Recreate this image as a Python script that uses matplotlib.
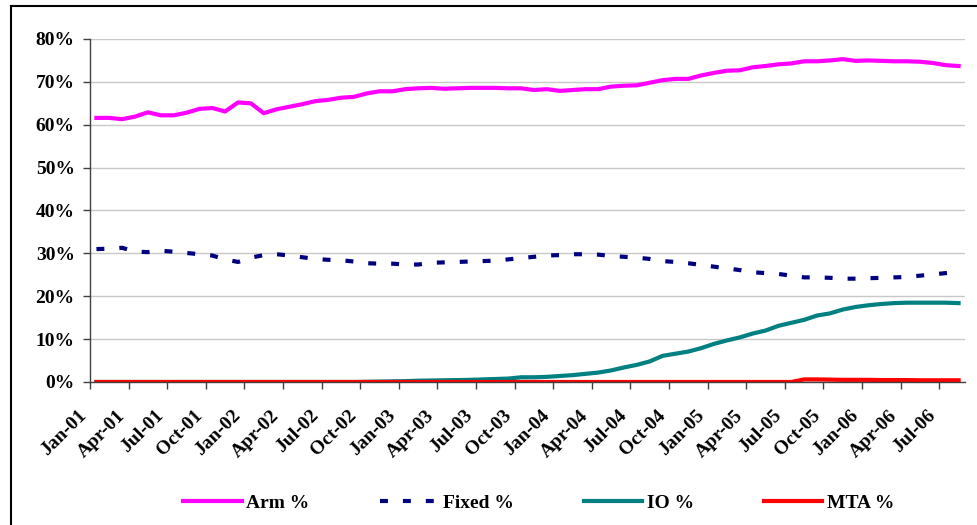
import numpy as np
import matplotlib
matplotlib.use("Agg")
import matplotlib.pyplot as plt
from matplotlib.lines import Line2D
from matplotlib.ticker import PercentFormatter

# month labels, Jan-01 .. Aug-06 (68 months)
months = ["Jan", "Feb", "Mar", "Apr", "May", "Jun",
          "Jul", "Aug", "Sep", "Oct", "Nov", "Dec"]
periods = [f"{m}-{y:02d}" for y in range(1, 7) for m in months][:68]

arm = [61.6, 61.6, 61.3, 61.9, 62.9, 62.2, 62.2, 62.8, 63.7, 63.9,
       63.1, 65.2, 65.0, 62.7, 63.6, 64.2, 64.8, 65.5, 65.8, 66.3,
       66.5, 67.3, 67.8, 67.8, 68.3, 68.5, 68.6, 68.4, 68.5, 68.6,
       68.6, 68.6, 68.5, 68.5, 68.1, 68.3, 67.9, 68.1, 68.3, 68.3,
       68.9, 69.1, 69.2, 69.8, 70.4, 70.7, 70.7, 71.5, 72.1, 72.6,
       72.7, 73.4, 73.7, 74.1, 74.3, 74.8, 74.8, 75.0, 75.3, 74.9,
       75.0, 74.9, 74.8, 74.8, 74.7, 74.4, 73.9, 73.7]

fixed = [31.0, 31.1, 31.3, 30.4, 30.3, 30.6, 30.4, 30.1, 29.8, 29.5,
         28.6, 28.0, 29.0, 29.6, 29.8, 29.5, 29.1, 28.7, 28.5, 28.4,
         28.1, 27.7, 27.6, 27.6, 27.4, 27.4, 27.8, 27.9, 28.0, 28.1,
         28.2, 28.3, 28.6, 28.9, 29.2, 29.5, 29.6, 29.8, 29.8, 29.7,
         29.4, 29.2, 29.0, 28.7, 28.2, 28.0, 27.7, 27.3, 26.9, 26.5,
         26.1, 25.6, 25.4, 25.2, 24.8, 24.4, 24.4, 24.3, 24.1, 24.1,
         24.2, 24.3, 24.4, 24.5, 24.8, 25.1, 25.4, 25.6]

io = [0.0, 0.0, 0.0, 0.0, 0.0, 0.0, 0.0, 0.0, 0.0, 0.0,
      0.0, 0.0, 0.0, 0.0, 0.0, 0.0, 0.0, 0.0, 0.0, 0.0,
      0.0, 0.05, 0.1, 0.15, 0.2, 0.3, 0.35, 0.4, 0.45, 0.5,
      0.6, 0.7, 0.8, 1.1, 1.1, 1.2, 1.4, 1.6, 1.9, 2.2,
      2.7, 3.4, 4.0, 4.8, 6.1, 6.6, 7.1, 7.9, 8.9, 9.7,
      10.4, 11.3, 12.0, 13.1, 13.8, 14.5, 15.5, 16.0, 16.9, 17.5,
      17.9, 18.2, 18.4, 18.5, 18.5, 18.5, 18.5, 18.4]

mta = [0.0] * 55 + [0.6, 0.6, 0.55, 0.5, 0.5, 0.5, 0.45, 0.45,
                    0.45, 0.4, 0.4, 0.4, 0.4]

font = "Liberation Serif"

fig = plt.figure(figsize=(9.78, 5.25), dpi=100)
ax = fig.add_axes([90 / 978, 143 / 525, 875 / 978, 343 / 525])

x = np.arange(len(periods))
ax.plot(x, arm, color="#FF00FF", lw=3, label="Arm %")
ax.plot(x, fixed, color="#000080", lw=3, dashes=(1.9, 3.6), label="Fixed %")
ax.plot(x, io, color="#008080", lw=3, label="IO %")
ax.plot(x, mta, color="#FF0000", lw=3, label="MTA %")

ax.set_xlim(-0.5, len(periods) - 0.5)
ax.set_ylim(0, 80)
ax.set_yticks(np.arange(0, 81, 10))
ax.yaxis.set_major_formatter(PercentFormatter(decimals=0))
ax.grid(axis="y", color="#C8C8C8", lw=1)
ax.set_axisbelow(True)

# tick marks between categories, one label every 3 months
ax.set_xticks(x[::3] - 0.5)
ax.set_xticklabels(periods[::3], rotation=45, ha="right", va="top",
                   fontfamily=font, fontweight="bold", fontsize=14)
ax.tick_params(axis="x", length=5, color="#404040", width=1, pad=13)
ax.tick_params(axis="y", length=5, color="#404040", width=1, pad=6)
for lab in ax.get_yticklabels():
    lab.set_fontfamily(font)
    lab.set_fontweight("bold")
    lab.set_fontsize(14)

for side in ["top", "right"]:
    ax.spines[side].set_visible(False)
for side in ["left", "bottom"]:
    ax.spines[side].set_color("#404040")
    ax.spines[side].set_linewidth(1)

fig.legend(loc="center", bbox_to_anchor=(539 / 978, 22 / 525), ncol=4,
           frameon=False, handlelength=3.0, handletextpad=0.25,
           columnspacing=3.6,
           prop={"family": font, "weight": "bold", "size": 14})

# outer chart border
fig.add_artist(Line2D([11 / 978, 1], [1 - 6 / 525, 1 - 6 / 525],
                      color="black", lw=1.5, transform=fig.transFigure))
fig.add_artist(Line2D([11 / 978, 11 / 978], [0, 1 - 6 / 525],
                      color="black", lw=1.5, transform=fig.transFigure))

plt.savefig("out.png", dpi=100)
